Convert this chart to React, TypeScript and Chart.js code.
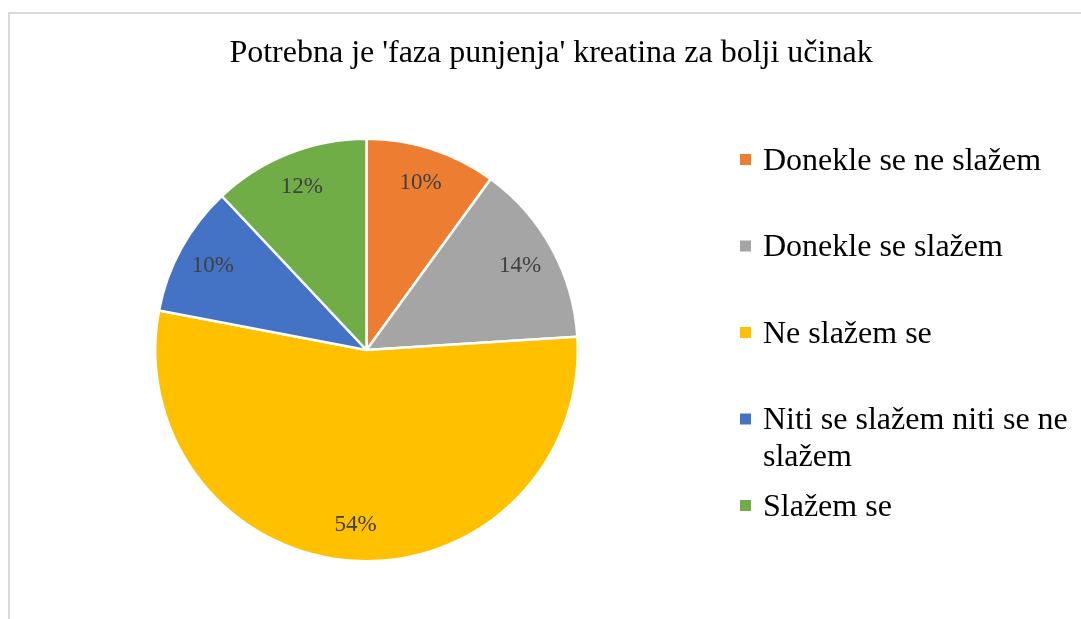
import React, { useEffect, useRef } from "react";
import { Chart, registerables } from "chart.js";

Chart.register(...registerables);

const TITLE = "Potrebna je 'faza punjenja' kreatina za bolji učinak";
const categories = [
  "Donekle se ne slažem",
  "Donekle se slažem",
  "Ne slažem se",
  "Niti se slažem niti se ne slažem",
  "Slažem se",
];
const percentValues = [10, 14, 54, 10, 12];
const sliceColors = ["#ED7D31", "#A5A5A5", "#FFC000", "#4472C4", "#70AD47"];

const FONT = '"Liberation Serif", "Times New Roman", serif';

const titlePlugin = {
  id: "customTitle",
  afterDraw(chart: any) {
    const ctx = chart.ctx;
    ctx.save();
    ctx.font = `32px ${FONT}`;
    ctx.fillStyle = "#000000";
    ctx.textAlign = "center";
    ctx.textBaseline = "alphabetic";
    ctx.fillText(TITLE, 551, 62);
    ctx.restore();
  },
};

const dataLabelPlugin = {
  id: "pieLabels",
  afterDatasetsDraw(chart: any) {
    const ctx = chart.ctx;
    const meta = chart.getDatasetMeta(0);
    const ds = chart.data.datasets[0];
    ctx.save();
    ctx.font = `23px ${FONT}`;
    ctx.fillStyle = "#404040";
    ctx.textAlign = "center";
    ctx.textBaseline = "middle";
    meta.data.forEach((arc: any, i: number) => {
      const { x, y, startAngle, endAngle, outerRadius } = arc.getProps(
        ["x", "y", "startAngle", "endAngle", "outerRadius"],
        true
      );
      const mid = (startAngle + endAngle) / 2;
      const r = outerRadius * 0.83;
      ctx.fillText(`${ds.data[i]}%`, x + Math.cos(mid) * r, y + Math.sin(mid) * r);
    });
    ctx.restore();
  },
};

const legendPlugin = {
  id: "customLegend",
  afterDraw(chart: any) {
    const ctx = chart.ctx;
    const labels: string[] = chart.data.labels;
    const colors: string[] = chart.data.datasets[0].backgroundColor;
    const markerX = 740;
    const markerSize = 11;
    const textX = 763;
    const maxWidth = 312;
    const firstBaseline = 169.5;
    const rowGap = 86.5;
    const lineHeight = 37;
    ctx.save();
    ctx.font = `32px ${FONT}`;
    ctx.textAlign = "left";
    ctx.textBaseline = "alphabetic";
    labels.forEach((label, i) => {
      const baseline = firstBaseline + i * rowGap;
      ctx.fillStyle = colors[i];
      ctx.fillRect(markerX, baseline - 15.5, markerSize, markerSize);
      const words = label.split(" ");
      const lines: string[] = [];
      let cur = "";
      words.forEach((w) => {
        const test = cur ? cur + " " + w : w;
        if (ctx.measureText(test).width > maxWidth && cur) {
          lines.push(cur);
          cur = w;
        } else {
          cur = test;
        }
      });
      if (cur) lines.push(cur);
      ctx.fillStyle = "#000000";
      lines.forEach((ln, j) => ctx.fillText(ln, textX, baseline + j * lineHeight));
    });
    ctx.restore();
  },
};

export default function App() {
  const canvasRef = useRef<HTMLCanvasElement | null>(null);

  useEffect(() => {
    if (!canvasRef.current) return;
    const chart = new Chart(canvasRef.current, {
      type: "pie",
      data: {
        labels: categories,
        datasets: [
          {
            data: percentValues,
            backgroundColor: sliceColors,
            borderColor: "#ffffff",
            borderWidth: 2.5,
          },
        ],
      },
      options: {
        responsive: false,
        animation: false,
        layout: {
          padding: { left: 154, right: 502, top: 137, bottom: 56 },
        },
        plugins: {
          legend: { display: false },
          title: { display: false },
          tooltip: { enabled: false },
        },
      },
      plugins: [titlePlugin, dataLabelPlugin, legendPlugin],
    });
    return () => chart.destroy();
  }, []);

  return (
    <div
      style={{
        position: "absolute",
        left: 0,
        top: 0,
        width: 1081,
        height: 619,
        background: "#ffffff",
        overflow: "hidden",
      }}
    >
      <div
        style={{
          position: "absolute",
          left: 8,
          top: 12,
          right: 0,
          bottom: 0,
          borderTop: "2px solid #d9d9d9",
          borderLeft: "2px solid #d9d9d9",
        }}
      />
      <canvas
        ref={canvasRef}
        width={1081}
        height={619}
        style={{ position: "absolute", left: 0, top: 0, width: 1081, height: 619 }}
      />
    </div>
  );
}
